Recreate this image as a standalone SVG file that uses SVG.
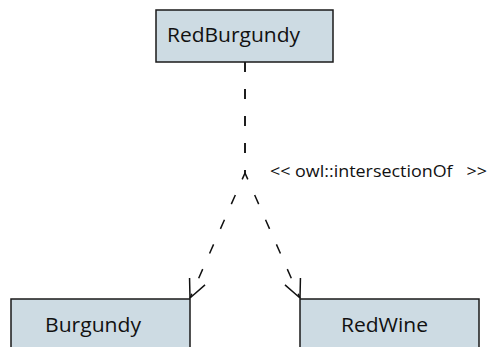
<svg xmlns="http://www.w3.org/2000/svg" width="489" height="347" viewBox="0 0 489 347">
  <style>
    .cls rect { fill: #cddbe3; stroke: #1a1a1a; stroke-width: 1.5; }
    .cls text { font-family: "Open Sans", "DejaVu Sans", sans-serif; font-size: 20px; fill: #111; }
    .edge { fill: none; stroke: #111; stroke-width: 1.5; stroke-dasharray: 10 17; }
    .lbl { font-family: "Open Sans", "DejaVu Sans", sans-serif; font-size: 17px; fill: #111; white-space: pre; }
  </style>
  <defs>
    <marker id="open" markerUnits="userSpaceOnUse" markerWidth="30" markerHeight="30" viewBox="-25 -15 30 30" refX="0" refY="0" orient="auto" overflow="visible">
      <path d="M-18.1,-8.45 L0,0 L-18.1,8.45" fill="none" stroke="#111" stroke-width="1.5"/>
    </marker>
  </defs>
  <rect width="489" height="347" fill="#fff"/>

  <!-- intersectionOf connectors: shared trunk, then split to each operand -->
  <g id="connectors">
    <path class="edge" d="M245,62 V173 L190,298" marker-end="url(#open)"/>
    <path class="edge" d="M245,62 V173 L300,298" marker-end="url(#open)"/>
    <text class="lbl" x="270" y="177" textLength="217" lengthAdjust="spacingAndGlyphs" xml:space="preserve">&lt;&lt; owl::intersectionOf   &gt;&gt;</text>
  </g>

  <g id="RedBurgundy" class="cls">
    <rect x="156" y="10" width="177" height="52"/>
    <text x="167" y="42" textLength="133" lengthAdjust="spacingAndGlyphs">RedBurgundy</text>
  </g>
  <g id="Burgundy" class="cls">
    <rect x="11" y="299" width="179" height="60"/>
    <text x="45" y="332" textLength="96" lengthAdjust="spacingAndGlyphs">Burgundy</text>
  </g>
  <g id="RedWine" class="cls">
    <rect x="300" y="299" width="179" height="60"/>
    <text x="341" y="332" textLength="87" lengthAdjust="spacingAndGlyphs">RedWine</text>
  </g>
</svg>
